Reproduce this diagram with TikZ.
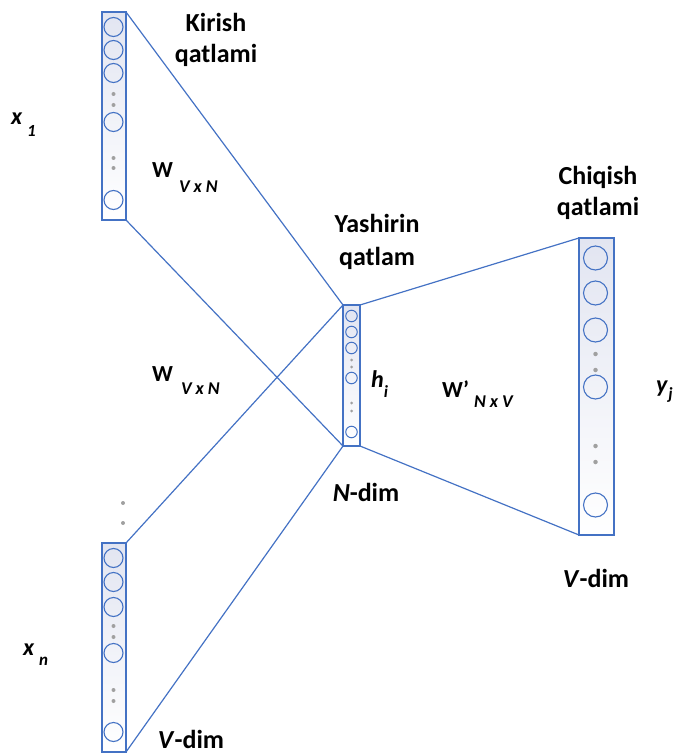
\documentclass[tikz,border=0pt]{standalone}
\usepackage{fontspec}
\setmainfont{Carlito}
\definecolor{nnblue}{RGB}{68,114,196}
\definecolor{boxtop}{RGB}{226,229,241}
\definecolor{dotgray}{RGB}{160,160,160}
\newcommand{\lblfont}{\fontsize{26}{31}\selectfont\bfseries}
\newcommand{\wfont}{\fontsize{23}{26}\selectfont\bfseries}
\newcommand{\wsub}{\fontsize{18}{20}\selectfont\bfseries\itshape}
\newcommand{\varfont}{\fontsize{24}{26}\selectfont\bfseries\itshape}
\newcommand{\varsub}{\fontsize{17}{19}\selectfont\bfseries\itshape}
\begin{document}
\begin{tikzpicture}[x=1pt,y=-1pt,
  layerbox/.style={draw=nnblue, line width=1.2pt, top color=boxtop, bottom color=white, inner sep=0pt, outer sep=0pt},
  neuron/.style={circle, draw=nnblue, line width=1.1pt, inner sep=0pt},
  gdot/.style={circle, fill=dotgray, inner sep=0pt, minimum size=4pt},
  conn/.style={draw=nnblue, line width=1.2pt},
  lbl/.style={inner sep=0pt, align=center, anchor=base, font=\lblfont},
  dimlbl/.style={inner sep=0pt, anchor=base, font=\lblfont},
  txt/.style={inner sep=0pt, anchor=base west}]
\useasboundingbox (0,0) rectangle (675,754);

% layer boxes
\node[layerbox, minimum width=24pt, minimum height=208pt] (inA) at (114,116) {};
\node[layerbox, minimum width=24pt, minimum height=209pt] (inB) at (114,647.5) {};
\node[layerbox, minimum width=17pt, minimum height=141pt] (hid) at (351.5,375.5) {};
\node[layerbox, minimum width=35pt, minimum height=297pt] (out) at (596.5,386.5) {};

% connectors
\draw[conn] (inA.north east) -- (hid.north west);
\draw[conn] (inA.south east) -- (hid.south west);
\draw[conn] (inB.north east) -- (hid.north west);
\draw[conn] (inB.south east) -- (hid.south west);
\draw[conn] (hid.north east) -- (out.north west);
\draw[conn] (hid.south east) -- (out.south west);

% top input neurons
\foreach \yy [count=\i] in {27,50,73,122,200}
  \node[neuron, minimum size=19pt] (a\i) at (113.5,\yy) {};
\foreach \yy [count=\i] in {94,105,158,168}
  \node[gdot] (ad\i) at (113.5,\yy) {};

% bottom input neurons
\foreach \yy [count=\i] in {558,582,607,653,732}
  \node[neuron, minimum size=19pt] (b\i) at (113.5,\yy) {};
\foreach \yy [count=\i] in {626,637,690,701}
  \node[gdot] (bd\i) at (113.5,\yy) {};
\node[gdot] (vd1) at (123,503) {};
\node[gdot] (vd2) at (123,523) {};

% hidden neurons
\foreach \yy [count=\i] in {316,332,348,378,432}
  \node[neuron, minimum size=11.5pt, line width=1pt] (h\i) at (351.5,\yy) {};
\foreach \yy [count=\i] in {360,367,403,411}
  \node[gdot, minimum size=3pt] (hd\i) at (351.5,\yy) {};

% output neurons
\foreach \yy [count=\i] in {258,293,330,387,505}
  \node[neuron, minimum size=24pt] (o\i) at (595.5,\yy) {};
\foreach \yy [count=\i] in {354,370,446,462}
  \node[gdot, minimum size=4.5pt] (od\i) at (595.5,\yy) {};

% layer labels (base = last line)
\node[lbl] (kirish) at (216,63) {Kirish\\qatlami};
\node[lbl] (yash) at (377,265) {Yashirin\\[2pt]qatlam};
\node[lbl] (chiq) at (598,215) {Chiqish\\qatlami};
\node[dimlbl] (ndim) at (366,501) {\textit{N}-dim};
\node[dimlbl] (vdim1) at (596,587) {\textit{V}-dim};
\node[dimlbl] (vdim2) at (191,748) {\textit{V}-dim};

% weight labels
\node[txt] (w1) at (152,178) {\wfont W\hspace{6pt}\raisebox{-14pt}{\wsub V\hspace{4pt}x\hspace{4pt}N}};
\node[txt] (w2) at (152,381) {\wfont W\hspace{8pt}\raisebox{-13pt}{\wsub V\hspace{4pt}x\hspace{4pt}N}};
\node[txt] (w3) at (442,397) {\wfont W’\hspace{5pt}\raisebox{-10pt}{\wsub N\hspace{4pt}x\hspace{4pt}V}};

% variable labels
\node[txt] (x1) at (11,125) {\varfont x\hspace{5pt}\raisebox{-12pt}{\varsub 1}};
\node[txt] (xn) at (23,655) {\varfont x\hspace{5pt}\raisebox{-10pt}{\varsub n}};
\node[txt] (hi) at (371,387) {\varfont h\raisebox{-10pt}{\varsub i}};
\node[txt] (yj) at (656,392) {\varfont y\hspace{1pt}\raisebox{-7pt}{\varsub j}};
\end{tikzpicture}
\end{document}
